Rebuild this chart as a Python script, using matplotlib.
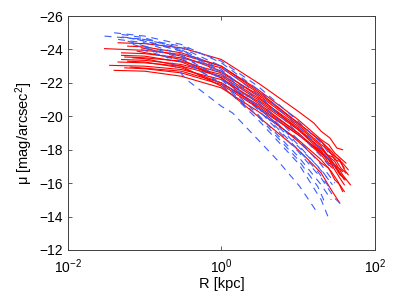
import matplotlib
matplotlib.use('Agg')
import matplotlib.pyplot as plt
from matplotlib.ticker import LogFormatterMathtext, FixedLocator, NullLocator

plt.rcParams['font.family'] = ['Liberation Sans', 'DejaVu Sans']
plt.rcParams['mathtext.default'] = 'regular'
plt.rcParams['lines.scale_dashes'] = False

# surface brightness profiles: R [kpc], mu [mag/arcsec^2]
red_R = [
    [0.045, 0.1, 0.3, 1, 3, 10, 16, 20, 26, 32, 38],
    [0.03, 0.1, 0.3, 1, 3, 10, 15, 20, 25, 30, 42],
    [0.05, 0.1, 0.3, 1, 3, 10, 20, 26, 35, 40, 45],
    [0.055, 0.1, 0.3, 1, 3, 10, 20, 25, 30, 35, 40],
    [0.05, 0.1, 0.3, 1, 3, 10, 20, 24, 30, 36, 42],
    [0.045, 0.1, 0.3, 1, 3, 10, 18, 25, 32, 40],
    [0.035, 0.1, 0.3, 1, 3, 10, 20, 25, 30, 38, 48],
    [0.055, 0.1, 0.3, 1, 3, 10, 20, 25, 30, 35, 40],
    [0.04, 0.1, 0.3, 1, 3, 10, 20, 27, 33, 38],
    [0.06, 0.1, 0.3, 1, 3, 10, 20, 25, 30, 35, 40],
    [0.07, 0.1, 0.3, 1, 3, 10, 15, 20, 27, 35],
    [0.08, 0.3, 1, 3, 10, 20, 25, 30, 35, 40],
    [0.09, 0.3, 1, 3, 10, 20, 25, 30, 36, 42],
    [0.06, 0.1, 0.3, 1, 3, 10, 20, 26, 32, 38, 45],
    [0.05, 0.1, 0.3, 1, 3, 10, 20, 25, 30, 38],
    [0.065, 0.3, 1, 3, 10, 15, 20, 24, 28],
]
red_mu = [
    [-24.4, -24.35, -24.1, -23.4, -22.0, -20.3, -19.6, -19.1, -18.7, -18.1, -18.0],
    [-24.05, -23.95, -23.7, -23.0, -21.6, -19.8, -19.1, -18.6, -18.3, -17.8, -17.2],
    [-23.8, -23.75, -23.5, -22.9, -21.4, -19.6, -18.5, -17.8, -17.4, -16.8, -16.5],
    [-23.55, -23.5, -23.3, -22.6, -21.3, -19.5, -18.3, -18.0, -17.4, -17.3, -16.9],
    [-23.4, -23.35, -23.1, -22.5, -21.1, -19.4, -18.2, -17.7, -17.5, -16.9, -16.6],
    [-23.25, -23.2, -23.0, -22.4, -21.0, -19.3, -18.2, -17.6, -16.9, -16.2],
    [-23.05, -23.0, -22.8, -22.2, -20.9, -19.2, -18.1, -17.6, -17.3, -16.5, -15.9],
    [-22.9, -22.85, -22.6, -21.9, -20.5, -18.9, -17.9, -17.2, -17.0, -16.5, -16.3],
    [-22.75, -22.7, -22.4, -21.7, -20.3, -18.6, -17.4, -16.7, -16.1, -15.5],
    [-23.3, -23.25, -22.9, -22.0, -20.6, -18.9, -17.8, -17.4, -16.8, -16.3, -15.9],
    [-23.5, -23.45, -23.0, -21.8, -20.0, -18.0, -17.2, -16.6, -15.6, -14.8],
    [-23.9, -23.4, -22.3, -20.5, -18.5, -17.2, -16.9, -16.2, -15.9, -15.5],
    [-24.1, -23.6, -22.7, -21.2, -19.2, -17.9, -17.4, -17.0, -16.5, -16.2],
    [-24.2, -24.15, -23.8, -23.0, -21.5, -19.6, -18.5, -18.0, -17.5, -17.2, -16.8],
    [-23.65, -23.6, -23.25, -22.3, -20.8, -19.0, -17.8, -17.5, -17.1, -16.7],
    [-22.95, -22.7, -22.0, -20.7, -19.0, -18.2, -17.7, -17.2, -16.9],
]

blue_R = [
    [0.03, 0.1, 0.3, 1, 3, 10, 20, 28],
    [0.04, 0.1, 0.3, 1, 3, 10, 20, 30],
    [0.05, 0.1, 0.3, 1, 3, 10, 20, 28],
    [0.06, 0.1, 0.3, 1, 3, 10, 18, 25],
    [0.045, 0.1, 0.3, 1, 3, 10, 20, 27],
    [0.06, 0.1, 0.2, 0.35, 1, 1.4, 3, 5.3, 10.5, 17.4],
    [0.07, 0.3, 1, 3, 10, 20, 26],
    [0.1, 0.3, 1, 3, 10, 20, 30, 35],
    [0.08, 0.3, 1, 3, 10, 20, 30],
    [0.12, 0.3, 1, 3, 10, 18, 25],
    [0.05, 0.1, 0.3, 1, 3, 10, 20, 27],
    [0.09, 0.3, 1, 3, 10, 18, 22],
]
blue_mu = [
    [-24.8, -24.6, -24.1, -23.0, -21.3, -19.0, -17.6, -16.8],
    [-25.0, -24.8, -24.3, -23.2, -21.6, -19.4, -18.0, -17.0],
    [-24.9, -24.7, -24.0, -22.6, -20.6, -18.2, -16.8, -15.9],
    [-24.7, -24.5, -23.9, -22.5, -20.5, -18.0, -16.7, -15.8],
    [-24.6, -24.4, -23.7, -22.2, -20.1, -17.6, -15.9, -15.0],
    [-24.5, -24.2, -23.5, -22.2, -20.6, -20.2, -18.6, -17.4, -15.8, -14.3],
    [-24.3, -23.5, -21.9, -19.8, -17.2, -15.0, -13.7],
    [-24.2, -23.6, -22.3, -20.4, -17.9, -16.3, -15.1, -14.8],
    [-24.6, -24.0, -22.8, -21.0, -18.6, -17.1, -16.0],
    [-24.4, -23.9, -22.7, -20.8, -18.3, -17.0, -16.2],
    [-24.75, -24.6, -24.2, -23.3, -21.8, -19.7, -18.4, -17.6],
    [-24.0, -23.3, -22.0, -20.0, -17.4, -15.8, -14.9],
]

fig = plt.figure(figsize=(3.95, 3.03), dpi=100)
ax = fig.add_axes([0.172, 0.175, 0.777, 0.772])

for R, mu in zip(red_R, red_mu):
    ax.plot(R, mu, color='red', lw=0.8)
for R, mu in zip(blue_R, blue_mu):
    ax.plot(R, mu, color='#3a5cff', lw=0.8, dashes=(5, 4))

ax.set_xscale('log')
ax.set_xlim(1e-2, 1e2)
ax.set_ylim(-12, -26)
ax.xaxis.set_major_locator(FixedLocator([1e-2, 1e0, 1e2]))
ax.xaxis.set_major_formatter(LogFormatterMathtext())
ax.xaxis.set_minor_locator(NullLocator())
ax.set_yticks(range(-26, -11, 2))
ax.tick_params(direction='in', top=True, right=True, length=3, width=0.6,
               labelsize=10, color='#404040')
ax.tick_params(axis='x', pad=5)
for s in ax.spines.values():
    s.set_color('#404040')
    s.set_linewidth(0.7)

ax.set_xlabel('R [kpc]', fontsize=10.5, labelpad=1)
ax.set_ylabel('μ [mag/arcsec$^2$]', fontsize=10.5, labelpad=3)

fig.savefig('out.png', dpi=100)
